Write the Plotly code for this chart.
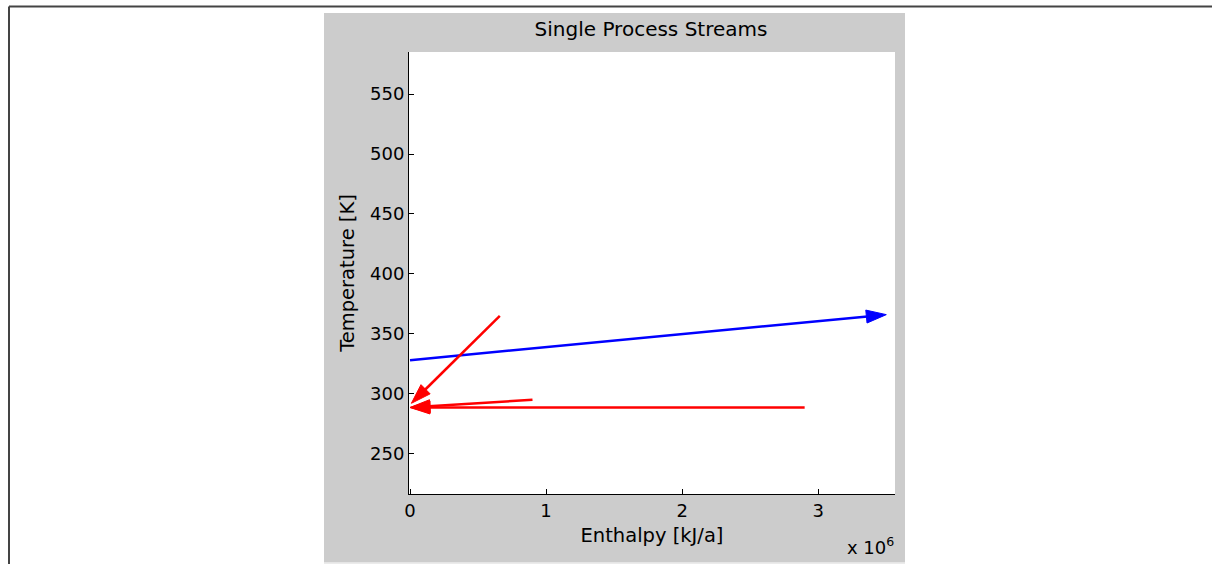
import plotly.graph_objects as go

# process streams: start/end enthalpy [kJ/a] and temperature [K]
stream_kind = ["cold", "hot", "hot", "hot"]
h_start = [0.0, 0.66e6, 0.90e6, 2.90e6]
h_end = [3.50e6, 0.01e6, 0.0, 0.0]
t_start = [328.0, 365.0, 295.0, 288.5]
t_end = [366.0, 292.0, 288.5, 288.5]

x_ticks = [0, 1e6, 2e6, 3e6]
x_ticktext = ["0", "1", "2", "3"]

kind_color = {"cold": "#0000ff", "hot": "#ff0000"}
FONT = "DejaVu Sans"

fig = go.Figure()
for kind, h0, h1, t0, t1 in zip(stream_kind, h_start, h_end, t_start, t_end):
    c = kind_color[kind]
    fig.add_trace(go.Scatter(
        x=[h0, h1], y=[t0, t1],
        mode="lines+markers",
        line=dict(color=c, width=2.5),
        marker=dict(symbol=["circle", "arrow"], size=[0, 21], color=c, opacity=1,
                    angleref="previous", line=dict(width=1, color=c)),
        showlegend=False,
        hoverinfo="x+y",
    ))

# plot area in pixels: left 409, right 895, top 52, bottom 494
L, R, T, B = 409, 895, 52, 494
W, H = R - L, B - T


def px(x):
    return (x - L) / W


def py(y):
    return (B - y) / H


shapes = [
    # page border lines
    dict(type="line", xref="paper", yref="paper", x0=px(9), x1=px(1212), y0=py(6.5), y1=py(6.5),
         line=dict(color="#444444", width=2), layer="below"),
    dict(type="line", xref="paper", yref="paper", x0=px(9), x1=px(9), y0=py(6.5), y1=py(564),
         line=dict(color="#444444", width=2), layer="below"),
    # grey figure panel
    dict(type="rect", xref="paper", yref="paper", x0=px(324), x1=px(905), y0=py(562.5), y1=py(13),
         fillcolor="#cccccc", line=dict(width=0), layer="below"),
    dict(type="line", xref="paper", yref="paper", x0=px(324), x1=px(905), y0=py(563), y1=py(563),
         line=dict(color="#e4e4e4", width=1.5), layer="below"),
    # white axes background
    dict(type="rect", xref="paper", yref="paper", x0=0, x1=1, y0=0, y1=1,
         fillcolor="#ffffff", line=dict(width=0), layer="below"),
]

fig.update_layout(
    width=1212, height=564,
    margin=dict(l=L, r=1212 - R, t=T, b=564 - B, pad=0),
    paper_bgcolor="#ffffff",
    plot_bgcolor="#ffffff",
    font=dict(family=FONT, size=18, color="#000000"),
    title=dict(text="Single Process Streams", xref="paper", x=px(651), xanchor="center",
               yref="container", y=1 - 29 / 564, yanchor="middle", font=dict(size=20)),
    shapes=shapes,
    xaxis=dict(
        range=[-0.0074e6, 3.564e6],
        tickvals=x_ticks, ticktext=x_ticktext,
        ticks="inside", ticklen=5, tickcolor="#000000",
        tickfont=dict(size=18),
        showline=True, linecolor="#000000", linewidth=1, mirror=False,
        showgrid=False, zeroline=False,
        title=dict(text="Enthalpy [kJ/a]", standoff=8, font=dict(size=19.5)),
    ),
    yaxis=dict(
        range=[216.3, 585.2], dtick=50, tick0=250,
        ticks="inside", ticklen=5, tickcolor="#000000",
        tickfont=dict(size=18),
        showline=True, linecolor="#000000", linewidth=1, mirror=False,
        showgrid=False, zeroline=False,
        title=dict(text="Temperature [K]", standoff=10, font=dict(size=19.5)),
    ),
    annotations=[
        dict(text="x 10<sup>6</sup>", xref="paper", yref="paper",
             x=px(870), y=py(546), xanchor="center", yanchor="middle",
             showarrow=False, font=dict(size=18)),
    ],
)

fig.write_html("out.html", config={"displayModeBar": False},
               post_script="document.body.style.margin='0px';document.body.style.overflow='hidden';")
